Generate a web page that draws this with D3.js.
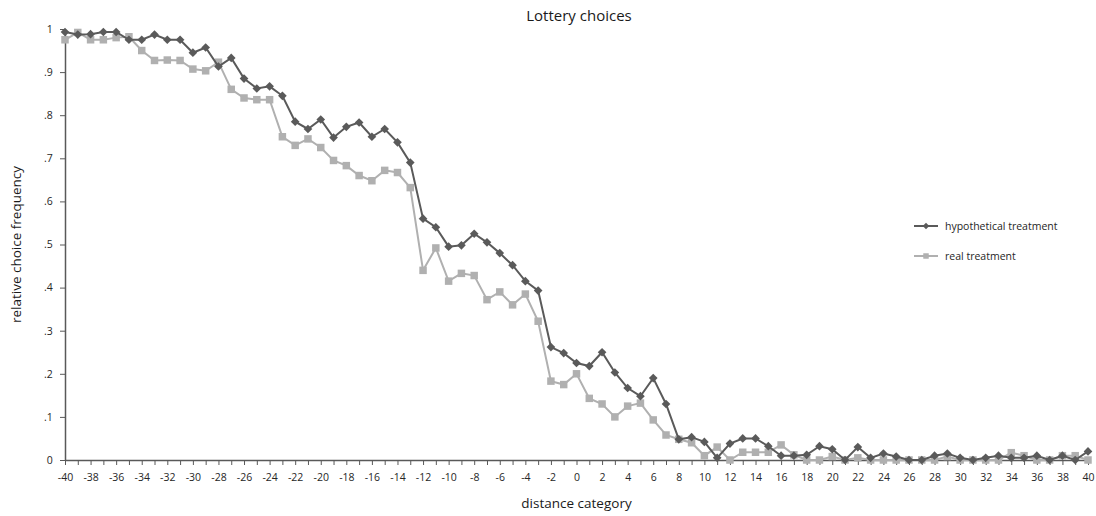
<!DOCTYPE html>
<meta charset="utf-8">
<style>
  body { margin: 0; background: #fff; font-family: "Open Sans", "Liberation Sans", sans-serif; }
  .axis path, .axis line { stroke: #595959; }
  .axis text { fill: #262626; font-size: 10.5px; font-family: "Open Sans", sans-serif; }
</style>
<body></body>
<script src="https://d3js.org/d3.v7.min.js"></script>
<script>
// distance categories -40..40
var categories = [-40,-39,-38,-37,-36,-35,-34,-33,-32,-31,-30,-29,-28,-27,-26,-25,-24,-23,-22,-21,
  -20,-19,-18,-17,-16,-15,-14,-13,-12,-11,-10,-9,-8,-7,-6,-5,-4,-3,-2,-1,
  0,1,2,3,4,5,6,7,8,9,10,11,12,13,14,15,16,17,18,19,
  20,21,22,23,24,25,26,27,28,29,30,31,32,33,34,35,36,37,38,39,40];

var hypothetical = [0.993,0.987,0.988,0.993,0.993,0.975,0.975,0.987,0.975,0.975,
  0.945,0.957,0.913,0.933,0.885,0.862,0.867,0.845,0.785,0.768,
  0.790,0.748,0.773,0.783,0.750,0.768,0.737,0.690,0.560,0.540,
  0.495,0.498,0.525,0.505,0.480,0.452,0.415,0.393,0.262,0.248,
  0.225,0.218,0.250,0.203,0.167,0.148,0.190,0.130,0.048,0.053,
  0.042,0.005,0.038,0.050,0.050,0.032,0.010,0.010,0.012,0.032,
  0.025,0.000,0.030,0.005,0.015,0.008,0.000,0.000,0.010,0.015,
  0.005,0.000,0.005,0.010,0.005,0.005,0.010,0.000,0.010,0.000,0.020];

var real = [0.975,0.992,0.975,0.975,0.980,0.982,0.950,0.927,0.928,0.927,
  0.907,0.903,0.923,0.860,0.840,0.836,0.836,0.750,0.730,0.745,
  0.725,0.695,0.683,0.660,0.648,0.672,0.667,0.632,0.440,0.492,
  0.415,0.433,0.428,0.372,0.390,0.360,0.385,0.322,0.183,0.175,
  0.200,0.143,0.130,0.100,0.125,0.132,0.093,0.058,0.048,0.040,
  0.010,0.030,0.000,0.018,0.018,0.018,0.035,0.012,0.000,0.000,
  0.008,0.000,0.005,0.000,0.000,0.000,0.000,0.000,0.000,0.008,
  0.000,0.000,0.000,0.000,0.017,0.010,0.000,0.000,0.010,0.010,0.000];

var yTicks = [0,0.1,0.2,0.3,0.4,0.5,0.6,0.7,0.8,0.9,1];
var yTickLabels = ["0",".1",".2",".3",".4",".5",".6",".7",".8",".9","1"];

var series = [
  {name: "hypothetical treatment", values: hypothetical, color: "#5a5a5a", shape: d3.symbolDiamond2, size: 48, legendSize: 28},
  {name: "real treatment", values: real, color: "#b0b0b0", shape: d3.symbolSquare, size: 56, legendSize: 30}
];

var W = 1096, H = 516;
var margin = {top: 29, right: 8, bottom: 56, left: 65};
var w = W - margin.left - margin.right,
    h = H - margin.top - margin.bottom;

var svg = d3.select("body").append("svg")
    .attr("width", W)
    .attr("height", H);

var chart = svg.append("g")
    .attr("transform", "translate(" + margin.left + "," + margin.top + ")");

var x = d3.scaleLinear().domain([-40, 40]).range([0, w]);
var y = d3.scaleLinear().domain([0, 1]).range([h, 0]);

var xaxis = d3.axisBottom(x)
    .tickValues(categories)
    .tickSize(5)
    .tickSizeOuter(0)
    .tickFormat(function(d) { return d % 2 === 0 ? d : ""; });

var yaxis = d3.axisLeft(y)
    .tickValues(yTicks)
    .tickSize(5)
    .tickSizeOuter(0)
    .tickFormat(function(d, i) { return yTickLabels[i]; });

chart.append("g")
    .attr("class", "axis")
    .attr("transform", "translate(0," + h + ")")
    .call(xaxis)
    .call(function(g) { g.select(".domain").attr("stroke-width", 1.5); })
    .selectAll("text").attr("dy", "1.2em");

chart.append("g")
    .attr("class", "axis")
    .call(yaxis)
    .call(function(g) { g.select(".domain").attr("stroke-width", 1.5); })
    .selectAll("text").attr("dx", "-0.4em");

var line = d3.line()
    .x(function(d, i) { return x(categories[i]); })
    .y(function(d) { return y(d); });

// draw real first so hypothetical sits on top
series.slice().reverse().forEach(function(s) {
  chart.append("path")
      .datum(s.values)
      .attr("fill", "none")
      .attr("stroke", s.color)
      .attr("stroke-width", 2)
      .attr("d", line);

  chart.selectAll(null)
      .data(s.values)
      .enter()
      .append("path")
      .attr("transform", function(d, i) { return "translate(" + x(categories[i]) + "," + y(d) + ")"; })
      .attr("d", d3.symbol().type(s.shape).size(s.size))
      .attr("fill", s.color);
});

// title and axis titles
svg.append("text")
    .attr("x", 579).attr("y", 21)
    .attr("text-anchor", "middle")
    .attr("font-size", 15)
    .attr("fill", "#1a1a1a")
    .text("Lottery choices");

svg.append("text")
    .attr("x", margin.left + w / 2).attr("y", 508)
    .attr("text-anchor", "middle")
    .attr("font-size", 13.5)
    .attr("fill", "#1a1a1a")
    .text("distance category");

svg.append("text")
    .attr("transform", "translate(21," + (margin.top + h / 2) + ") rotate(-90)")
    .attr("text-anchor", "middle")
    .attr("font-size", 13.5)
    .attr("fill", "#1a1a1a")
    .text("relative choice frequency");

// legend
var legend = svg.append("g").attr("transform", "translate(914,226)");
series.forEach(function(s, i) {
  var g = legend.append("g").attr("transform", "translate(0," + (i * 30) + ")");
  g.append("line").attr("x1", 0).attr("x2", 24).attr("y1", 0).attr("y2", 0)
      .attr("stroke", s.color).attr("stroke-width", 2);
  g.append("path").attr("transform", "translate(12,0)")
      .attr("d", d3.symbol().type(s.shape).size(s.legendSize))
      .attr("fill", s.color);
  g.append("text").attr("x", 31).attr("y", 4)
      .attr("font-size", 10.5).attr("fill", "#262626")
      .text(s.name);
});
</script>
